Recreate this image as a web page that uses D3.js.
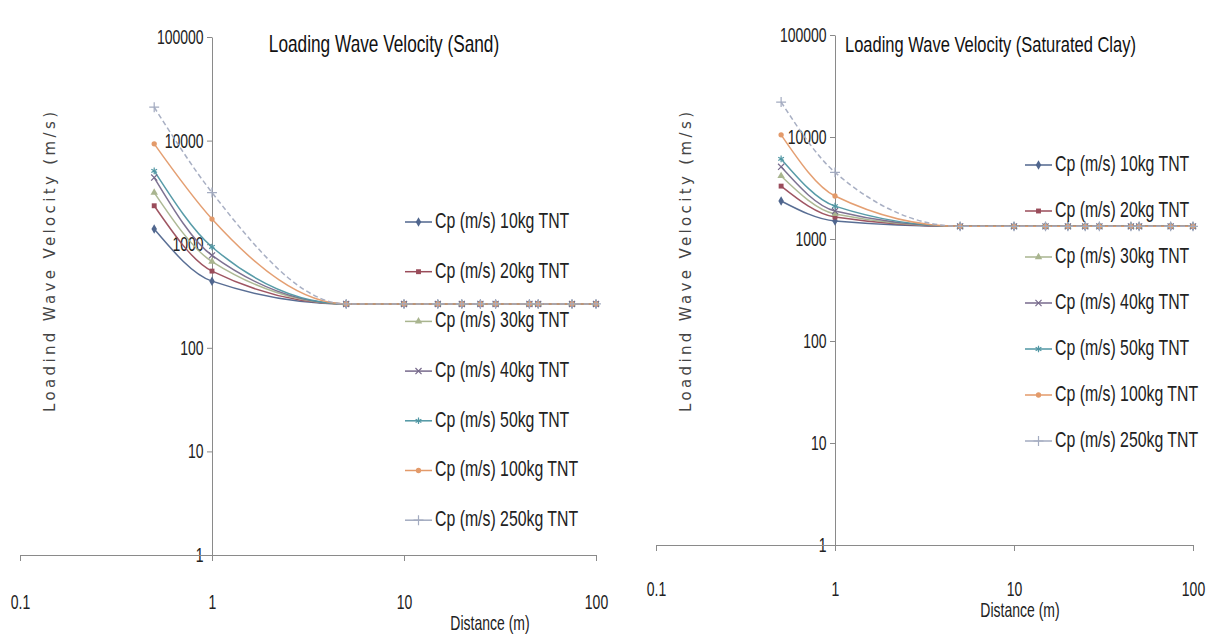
<!DOCTYPE html>
<html>
<head>
<meta charset="utf-8">
<script src="https://cdn.jsdelivr.net/npm/d3@7/dist/d3.min.js"></script>
<style>
  html, body { margin: 0; padding: 0; background: #fff; }
  svg { display: block; }
  .tick text { font-family: "Liberation Sans", Arial, sans-serif; font-size: 20px; fill: #222; }
</style>
</head>
<body>
<svg id="chart" width="1211" height="637"></svg>
<script>
// ---------------- DATA ----------------
const distances = [0.5, 1, 5, 10, 15, 20, 25, 30, 45, 50, 75, 100];
const seriesNames = ["Cp (m/s) 10kg TNT", "Cp (m/s) 20kg TNT", "Cp (m/s) 30kg TNT", "Cp (m/s) 40kg TNT",
                     "Cp (m/s) 50kg TNT", "Cp (m/s) 100kg TNT", "Cp (m/s) 250kg TNT"];
const yTickValues = [1, 10, 100, 1000, 10000, 100000];
const xTickValues = [0.1, 1, 10, 100];

// Sand
const sand10kg  = [1400, 440, 265, 265, 265, 265, 265, 265, 265, 265, 265, 265];
const sand20kg  = [2350, 550, 265, 265, 265, 265, 265, 265, 265, 265, 265, 265];
const sand30kg  = [3150, 680, 265, 265, 265, 265, 265, 265, 265, 265, 265, 265];
const sand40kg  = [4400, 780, 265, 265, 265, 265, 265, 265, 265, 265, 265, 265];
const sand50kg  = [5100, 940, 265, 265, 265, 265, 265, 265, 265, 265, 265, 265];
const sand100kg = [9300, 1750, 265, 265, 265, 265, 265, 265, 265, 265, 265, 265];
const sand250kg = [21000, 3150, 265, 265, 265, 265, 265, 265, 265, 265, 265, 265];

// Saturated clay
const clay10kg  = [2360, 1500, 1330, 1330, 1330, 1330, 1330, 1330, 1330, 1330, 1330, 1330];
const clay20kg  = [3300, 1640, 1330, 1330, 1330, 1330, 1330, 1330, 1330, 1330, 1330, 1330];
const clay30kg  = [4150, 1760, 1330, 1330, 1330, 1330, 1330, 1330, 1330, 1330, 1330, 1330];
const clay40kg  = [5100, 1880, 1330, 1330, 1330, 1330, 1330, 1330, 1330, 1330, 1330, 1330];
const clay50kg  = [6100, 2100, 1330, 1330, 1330, 1330, 1330, 1330, 1330, 1330, 1330, 1330];
const clay100kg = [10500, 2640, 1330, 1330, 1330, 1330, 1330, 1330, 1330, 1330, 1330, 1330];
const clay250kg = [22000, 4500, 1330, 1330, 1330, 1330, 1330, 1330, 1330, 1330, 1330, 1330];

const sandSeries = [sand10kg, sand20kg, sand30kg, sand40kg, sand50kg, sand100kg, sand250kg];
const claySeries = [clay10kg, clay20kg, clay30kg, clay40kg, clay50kg, clay100kg, clay250kg];

// ---------------- STYLE ----------------
const colors = ["#50668e", "#9a4c5a", "#a9b58f", "#776a8c", "#4f96a3", "#e39a6a", "#a3abc0"];
const dashes = [null, null, null, null, null, null, "5,3"];
const symbols = [
  {t: d3.symbolDiamond, fill: true, s: 26},
  {t: d3.symbolSquare, fill: true, s: 24},
  {t: d3.symbolTriangle, fill: true, s: 24},
  {t: d3.symbolTimes, fill: false, s: 26},
  {t: d3.symbolAsterisk, fill: false, s: 30},
  {t: d3.symbolCircle, fill: true, s: 22},
  {t: d3.symbolPlus, fill: false, s: 34}
];
const FONT = '"Liberation Sans", Arial, sans-serif';
const NARROW = 0.7;
const svg = d3.select("#chart");

// condensed text: drawn at (x, y) and squeezed horizontally
function condText(parent, x, y, str, size, f, anchor) {
  return parent.append("text")
    .attr("transform", `translate(${x},${y}) scale(${f},1)`)
    .attr("text-anchor", anchor || "start").attr("dominant-baseline", "middle")
    .attr("font-family", FONT).attr("font-size", size).attr("fill", "#222").text(str);
}

function drawPanel(cfg) {
  const x = d3.scaleLog().domain([0.1, 100]).range(cfg.xRange);
  const y = d3.scaleLog().domain([1, 100000]).range(cfg.yRange);
  const g = svg.append("g");

  // Y axis (crosses at x = 1)
  const yAxis = d3.axisLeft(y).tickValues(yTickValues).tickFormat(d3.format("d"))
    .tickSize(5).tickSizeOuter(0).tickPadding(4);
  const gy = g.append("g").attr("transform", `translate(${x(1)},0)`).call(yAxis);
  gy.selectAll("path, line").attr("stroke", "#8a8a8a");
  gy.selectAll("text").attr("transform", `scale(${NARROW},1)`).attr("x", -12);

  // X axis (crosses at y = 1)
  const xAxis = d3.axisBottom(x).tickValues(xTickValues).tickFormat(d => String(d))
    .tickSize(6).tickSizeOuter(0).tickPadding(cfg.xPad);
  const gx = g.append("g").attr("transform", `translate(0,${y(1)})`).call(xAxis);
  gx.selectAll("path, line").attr("stroke", "#8a8a8a");
  gx.selectAll("text").attr("transform", `scale(${NARROW},1)`);

  // Series lines
  const line = d3.line().x((d, i) => x(distances[i])).y(d => y(d)).curve(d3.curveMonotoneX);
  cfg.series.forEach((vals, k) => {
    g.append("path").attr("d", line(vals)).attr("fill", "none")
      .attr("stroke", colors[k]).attr("stroke-width", 1.5).attr("opacity", 0.95)
      .attr("stroke-dasharray", dashes[k]);
  });
  cfg.series.forEach((vals, k) => {
    const sym = symbols[k];
    const p = d3.symbol().type(sym.t).size(sym.s)();
    g.selectAll(null).data(vals).join("path")
      .attr("transform", (d, i) => `translate(${x(distances[i])},${y(d)})`)
      .attr("d", p)
      .attr("fill", sym.fill ? colors[k] : "none")
      .attr("stroke", sym.fill ? "none" : colors[k])
      .attr("stroke-width", 1.2);
  });

  // Title
  condText(g, cfg.titleX, cfg.titleY, cfg.title, cfg.titleSize, 0.75, cfg.titleAnchor).attr("fill", "#111");

  // Y-axis title
  g.append("text").attr("transform", `translate(${cfg.yTitleX},${cfg.yTitleY}) rotate(-90)`)
    .attr("text-anchor", "middle").attr("dominant-baseline", "middle")
    .attr("font-family", '"DejaVu Sans", Verdana, sans-serif').attr("font-size", 15)
    .attr("textLength", cfg.yTitleLen).attr("lengthAdjust", "spacing")
    .attr("fill", "#444").text("Loadind Wave Velocity (m/s)");

  // X-axis title
  condText(g, cfg.xTitleX, cfg.xTitleY, "Distance (m)", 20, 0.7, "middle");

  // Legend
  seriesNames.forEach((name, k) => {
    const ly = cfg.legendY0 + k * cfg.legendDy;
    const lx = cfg.legendX;
    g.append("line").attr("x1", lx).attr("x2", lx + 27).attr("y1", ly).attr("y2", ly)
      .attr("stroke", colors[k]).attr("stroke-width", 1.5);
    const sym = symbols[k];
    g.append("path").attr("transform", `translate(${lx + 13.5},${ly})`)
      .attr("d", d3.symbol().type(sym.t).size(sym.s)())
      .attr("fill", sym.fill ? colors[k] : "none")
      .attr("stroke", sym.fill ? "none" : colors[k]).attr("stroke-width", 1.2);
    condText(g, lx + 30, ly, name, 22, 0.72, "start");
  });
}

drawPanel({
  xRange: [20, 596], yRange: [555, 37], xPad: 34,
  series: sandSeries,
  title: "Loading Wave Velocity (Sand)", titleX: 384, titleY: 46, titleAnchor: "middle", titleSize: 23,
  yTitleX: 50, yTitleY: 262, yTitleLen: 300,
  xTitleX: 490, xTitleY: 625,
  legendX: 405, legendY0: 222, legendDy: 49.7
});

drawPanel({
  xRange: [656, 1193], yRange: [545, 35], xPad: 31,
  series: claySeries,
  title: "Loading Wave Velocity (Saturated Clay)", titleX: 845, titleY: 46, titleAnchor: "start", titleSize: 22,
  yTitleX: 686, yTitleY: 262, yTitleLen: 300,
  xTitleX: 1020, xTitleY: 612,
  legendX: 1025, legendY0: 165, legendDy: 46
});
</script>
</body>
</html>
